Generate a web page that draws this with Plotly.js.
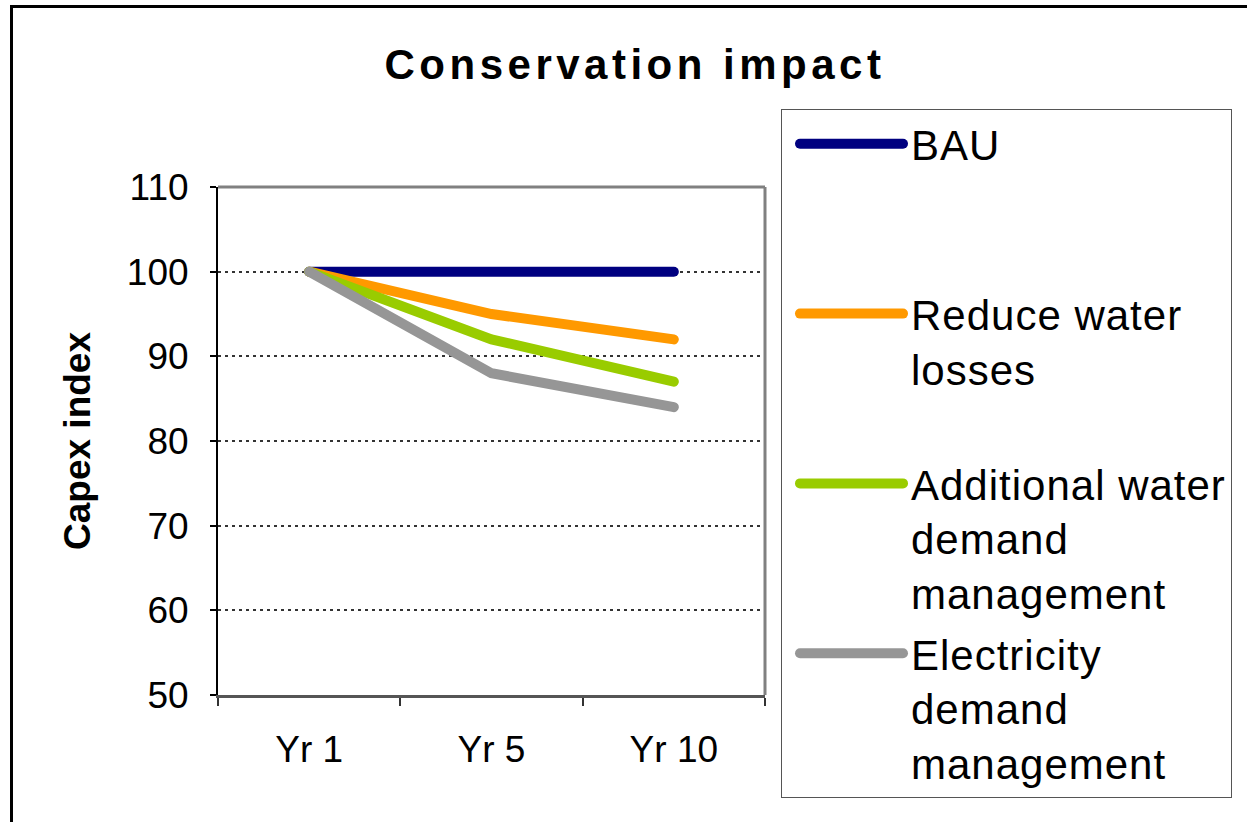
<!DOCTYPE html>
<html>
<head>
<meta charset="utf-8">
<script src="https://cdn.plot.ly/plotly-3.0.1.min.js"></script>
<style>
  html, body { margin: 0; padding: 0; width: 1247px; height: 822px; overflow: hidden; background: #fff; }
  #chart { position: absolute; left: 0; top: 0; width: 1247px; height: 822px; }
  #frame { position: absolute; left: 10px; top: 5px; width: 1300px; height: 900px; border: 3px solid #000; pointer-events: none; }
  .gtitle { letter-spacing: 4.5px; }
  .legendtext { letter-spacing: 1px; }
</style>
</head>
<body>
<div id="chart"></div>
<div id="frame"></div>
<script>
const categories = ['Yr 1', 'Yr 5', 'Yr 10'];
const bau = [100, 100, 100];
const reduceLosses = [100, 95, 92];
const additionalDemand = [100, 92, 87];
const electricityDemand = [100, 88, 84];
const seriesNames = [
  'BAU<br>\u00a0<br>\u00a0',
  'Reduce water<br>losses<br>\u00a0',
  'Additional water<br>demand<br>management',
  'Electricity<br>demand<br>management'
];
const seriesColors = ['#000080', '#FF9900', '#99CC00', '#969696'];
const seriesValues = [bau, reduceLosses, additionalDemand, electricityDemand];
const yTicks = [50, 60, 70, 80, 90, 100, 110];

const traces = seriesValues.map((vals, i) => ({
  type: 'scatter',
  mode: 'lines',
  x: categories,
  y: vals,
  name: seriesNames[i],
  legendgroup: 'g' + i,
  line: { color: seriesColors[i], width: 10 },
  hoverinfo: 'x+y'
}));

const font = 'Arial, "Liberation Sans", sans-serif';

const layout = {
  width: 1247,
  height: 822,
  margin: { l: 218, r: 482, t: 187, b: 127, pad: 0 },
  paper_bgcolor: 'rgba(0,0,0,0)',
  plot_bgcolor: '#ffffff',
  font: { family: font, color: '#000' },
  title: {
    text: '<b>Conservation impact</b>',
    font: { family: font, size: 42, color: '#000' },
    x: 635 / 1247, xanchor: 'center', xref: 'container',
    y: 1 - 64 / 822, yanchor: 'middle', yref: 'container'
  },
  xaxis: {
    type: 'category',
    range: [-0.5, 2.5],
    tickson: 'boundaries',
    ticks: 'outside',
    ticklen: 8,
    tickwidth: 1.5,
    tickcolor: '#333',
    showline: true,
    linecolor: '#555',
    linewidth: 2.5,
    showgrid: false,
    zeroline: false,
    tickfont: { family: font, size: 37, color: '#000' },
    ticklabelstandoff: 20,
    fixedrange: true
  },
  yaxis: {
    range: [50, 110],
    tickvals: yTicks,
    ticktext: yTicks.map(String),
    ticks: 'outside',
    ticklen: 6,
    tickwidth: 1.5,
    tickcolor: '#000',
    showline: true,
    linecolor: '#000',
    linewidth: 2,
    showgrid: true,
    gridcolor: '#333',
    gridwidth: 1.5,
    griddash: '3px,4px',
    zeroline: false,
    tickfont: { family: font, size: 37, color: '#000' },
    ticklabelstandoff: 14,
    title: {
      text: '<b>Capex index</b>',
      font: { family: font, size: 37, color: '#000' },
      standoff: 25
    },
    automargin: false,
    fixedrange: true
  },
  shapes: [
    { type: 'line', xref: 'paper', yref: 'paper', x0: 0, x1: 1, y0: 1, y1: 1, line: { color: '#808080', width: 3 }, layer: 'above' },
    { type: 'line', xref: 'paper', yref: 'paper', x0: 1, x1: 1, y0: 0, y1: 1, line: { color: '#808080', width: 3 }, layer: 'above' }
  ],
  showlegend: true,
  legend: {
    xref: 'container', yref: 'container',
    x: 781 / 1247, y: 1 - 109 / 822,
    xanchor: 'left', yanchor: 'top',
    maxheight: 1000,
    bgcolor: '#ffffff',
    bordercolor: '#555',
    borderwidth: 1,
    font: { family: font, size: 42, color: '#000' },
    valign: 'top',
    traceorder: 'grouped',
    tracegroupgap: 3,
    itemwidth: 119,
    itemclick: false,
    itemdoubleclick: false
  }
};

Plotly.newPlot('chart', traces, layout, { displayModeBar: false }).then(function (gd) {
  gd.querySelectorAll('.legendlines path').forEach(function (p) {
    p.setAttribute('d', 'M18,0h103');
    p.style.strokeLinecap = 'round';
    p.style.strokeWidth = '10px';
  });
  gd.querySelectorAll('.scatterlayer .js-line').forEach(function (p) {
    p.style.strokeLinecap = 'round';
  });
});
</script>
</body>
</html>
